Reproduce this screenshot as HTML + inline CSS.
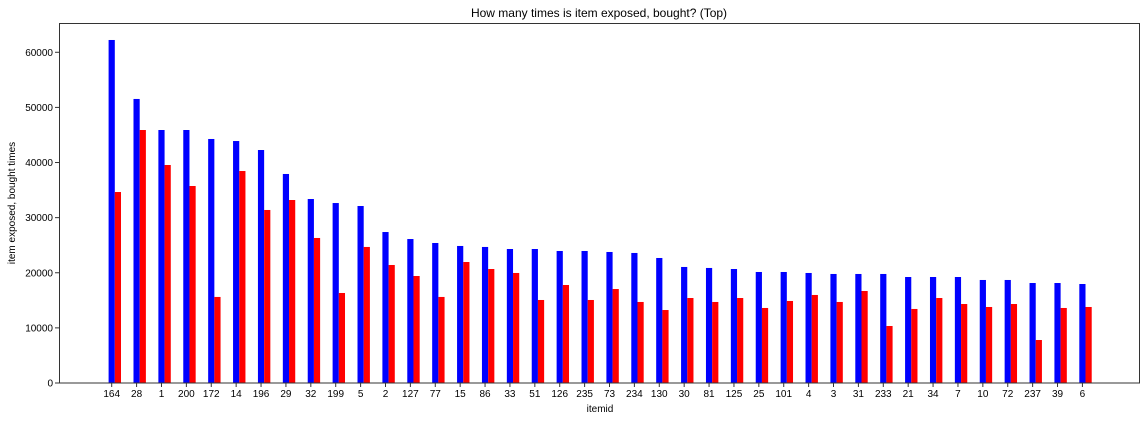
<!DOCTYPE html>
<html><head><meta charset="utf-8"><style>
body{margin:0;background:#fff;}
svg{display:block;font-family:"Liberation Sans","DejaVu Sans",sans-serif;}
</style></head><body>
<svg id="chart" width="1146" height="421" xmlns="http://www.w3.org/2000/svg">
<text x="599" y="17" font-size="12" text-anchor="middle">How many times is item exposed, bought? (Top)</text>
<text x="600" y="412" font-size="10" text-anchor="middle">itemid</text>
<text transform="translate(15,203) rotate(-90)" font-size="10" text-anchor="middle">item exposed, bought times</text>
<g id="grid"></g>
<g id="bars"></g>
<g id="ticks"></g>
<rect x="59.5" y="23.5" width="1080" height="359.5" fill="none" stroke="#333" stroke-width="1"/>
</svg>
<script>
const categories=["164","28","1","200","172","14","196","29","32","199","5","2","127","77","15","86","33","51","126","235","73","234","130","30","81","125","25","101","4","3","31","233","21","34","7","10","72","237","39","6"];
const exposed=[62230,51530,45900,45900,44270,43900,42270,37920,33380,32650,32110,27390,26120,25400,24860,24680,24310,24310,23950,23950,23770,23590,22680,21050,20870,20680,20140,20140,19960,19780,19780,19780,19230,19230,19230,18690,18690,18140,18140,17960];
const bought=[34650,45900,39550,35740,15610,38460,31390,33200,26310,16330,24680,21410,19410,15610,21950,20680,19960,15060,17780,15060,17050,14700,13240,15420,14700,15420,13610,14880,15970,14700,16690,10340,13430,15420,14330,13790,14330,7800,13610,13790];
const yTicks=[0,10000,20000,30000,40000,50000,60000];
const NS="http://www.w3.org/2000/svg";
const x0=111.7,step=24.89,y0=383,k=0.005512,bw=6.2;
function xs(i){return x0+i*step;}
function ys(v){return y0-v*k;}
const bars=document.getElementById('bars'),ticks=document.getElementById('ticks');
function mk(tag,at,par){const e=document.createElementNS(NS,tag);for(const a in at)e.setAttribute(a,at[a]);par.appendChild(e);return e;}
categories.forEach((c,i)=>{
  const b=mk('rect',{x:xs(i)-bw/2,y:ys(exposed[i]),width:bw,height:exposed[i]*k,fill:'#0000ff'},bars);
  
  
  const r=mk('rect',{x:xs(i)+bw/2,y:ys(bought[i]),width:bw,height:bought[i]*k,fill:'#ff0000'},bars);
  
  
  mk('line',{x1:xs(i),x2:xs(i),y1:383,y2:387,stroke:'#333'},ticks);
  const t=mk('text',{x:xs(i),y:397,'font-size':10,'text-anchor':'middle'},ticks);
  t.textContent=c;
  
  
});
yTicks.forEach(v=>{
  mk('line',{x1:55,x2:59,y1:ys(v),y2:ys(v),stroke:'#333'},ticks);
  const t=mk('text',{x:53,y:ys(v)+3.5,'font-size':10,'text-anchor':'end'},ticks);
  t.textContent=v;
  
  
});
</script>
</body></html>
